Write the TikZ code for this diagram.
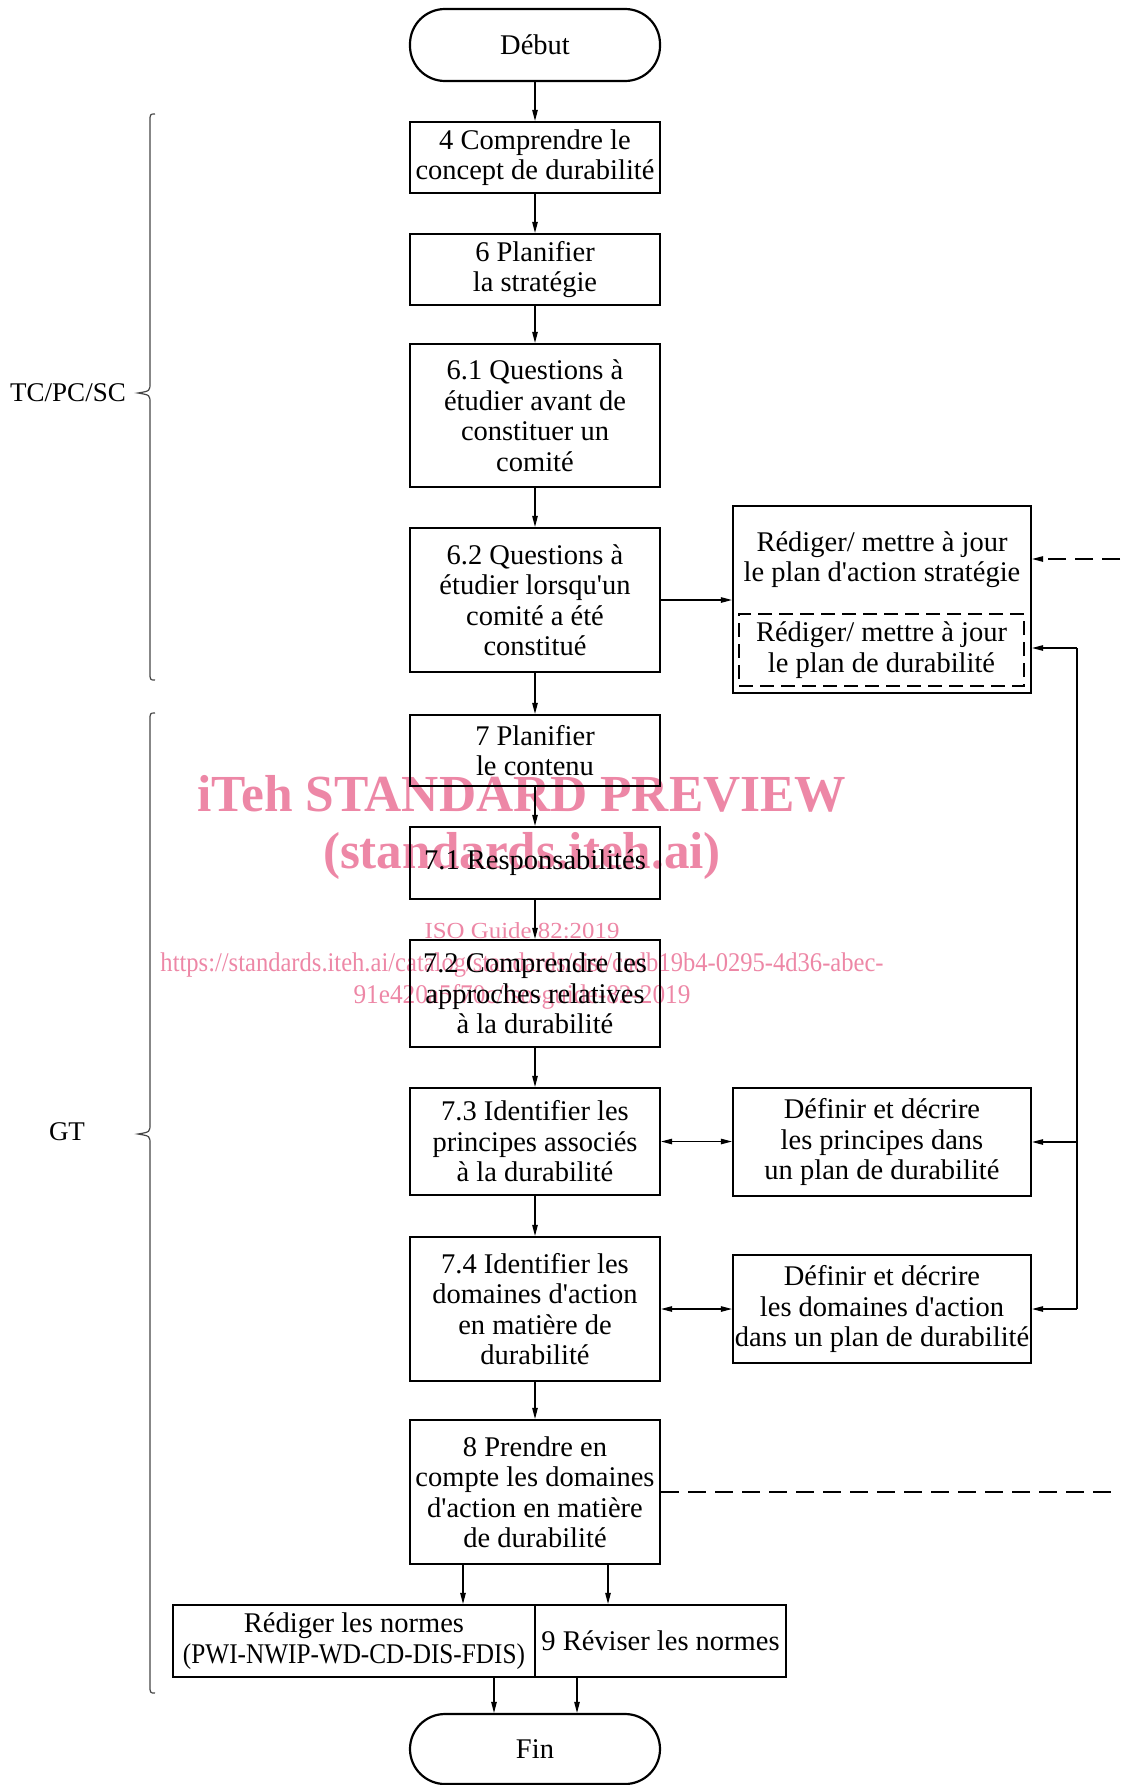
\documentclass[tikz,border=0pt]{standalone}
\usepackage{fontspec}
\setmainfont{Liberation Serif}[Ligatures=TeXOff]
\usepackage{graphicx}
\usetikzlibrary{arrows.meta}
\definecolor{wmpink}{RGB}{237,135,166}
\definecolor{bracegray}{RGB}{70,70,70}
\newcommand{\drawbrace}[3]{% top, tip, bottom
  \draw[bracegray, line width=1.2pt] (155,#1) .. controls (150,#1) .. (150,#1+8) -- (150,#2-10) .. controls (150,#2-2) .. (138,#2) .. controls (150,#2+2) .. (150,#2+10) -- (150,#3-8) .. controls (150,#3) .. (155,#3);}
\begin{document}
\begin{tikzpicture}[x=1pt,y=-1pt,
  box/.style={draw, line width=2.2pt, minimum width=250pt, align=center, inner sep=0pt, font=\fontsize{28.5}{30.5}\selectfont},
  stadium/.style={box, rounded corners=35pt},
  plain/.style={align=center, inner sep=0pt, font=\fontsize{28.5}{30.5}\selectfont},
  arr/.style={-{Triangle[length=11pt,width=5.5pt]}, line width=1.1pt},
  darr/.style={{Triangle[length=11pt,width=5.5pt]}-{Triangle[length=11pt,width=5.5pt]}, line width=1.1pt},
  dsh/.style={dash pattern=on 18pt off 9pt},
  wm/.style={text=wmpink, inner sep=0pt}]
\useasboundingbox (0,0) rectangle (1120,1785);

% watermark
\node[wm, font=\bfseries\fontsize{52}{52}\selectfont] (wm1) at (522,794) {\resizebox{649pt}{\height}{iTeh STANDARD PREVIEW}};
\node[wm, font=\bfseries\fontsize{52}{52}\selectfont] (wm2) at (522,856) {\resizebox{398pt}{\height}{(standards.iteh.ai)}};
\node[wm, font=\fontsize{23}{23}\selectfont] (wm3) at (522,932) {\resizebox{195pt}{\height}{\underline{ISO Guide 82:2019}}};
\node[wm, font=\fontsize{27}{27}\selectfont] (wm4) at (522,965) {\resizebox{723pt}{\height}{https://standards.iteh.ai/catalog/standards/sist/cadb19b4-0295-4d36-abec-}};
\node[wm, font=\fontsize{27}{27}\selectfont] (wm5) at (522,997) {\resizebox{337pt}{\height}{91e420a5f70c/iso-guide-82-2019}};

% main column
\node[stadium, minimum height=72pt] (debut) at (535,45) {Début};
\node[box, minimum height=71pt] (b4) at (535,157.5) {4 Comprendre le\\concept de durabilité};
\node[box, minimum height=71pt] (b6) at (535,269.5) {6 Planifier\\la stratégie};
\node[box, minimum height=143pt] (b61) at (535,415.5) {6.1 Questions à\\étudier avant de\\constituer un\\comité};
\node[box, minimum height=144pt] (b62) at (535,600) {6.2 Questions à\\étudier lorsqu'un\\comité a été\\constitué};
\node[box, minimum height=71pt] (b7) at (535,750.5) {7 Planifier\\le contenu};
\node[box, minimum height=72pt] (b71) at (535,863) {7.1 Responsabilités};
\node[box, minimum height=107pt] (b72) at (535,993.5) {7.2 Comprendre les\\approches relatives\\à la durabilité};
\node[box, minimum height=107pt] (b73) at (535,1141.5) {7.3 Identifier les\\principes associés\\à la durabilité};
\node[box, minimum height=144pt] (b74) at (535,1309) {7.4 Identifier les\\domaines d'action\\en matière de\\durabilité};
\node[box, minimum height=144pt] (b8) at (535,1492) {8 Prendre en\\compte les domaines\\d'action en matière\\de durabilité};
\node[box, minimum width=362pt, minimum height=72pt] (rl) at (354,1641) {Rédiger les normes\\\resizebox{342pt}{\height}{(PWI-NWIP-WD-CD-DIS-FDIS)}};
\node[box, minimum width=251pt, minimum height=72pt] (rr) at (660.5,1641) {9 Réviser les normes};
\node[stadium, minimum height=70pt] (fin) at (535,1749) {Fin};

% right column
\node[box, minimum width=298pt, minimum height=187pt] (r1) at (882,599.5) {};
\node[plain] (r1t) at (882,559.5) {Rédiger/ mettre à jour\\le plan d'action stratégie};
\node[box, line width=1.2pt, dash pattern=on 14pt off 7pt, minimum width=285pt, minimum height=72pt] (r1d) at (881.5,650) {Rédiger/ mettre à jour\\le plan de durabilité};
\node[box, minimum width=298pt, minimum height=108pt] (d1) at (882,1142) {Définir et décrire\\les principes dans\\un plan de durabilité};
\node[box, minimum width=298pt, minimum height=108pt] (d2) at (882,1309) {Définir et décrire\\les domaines d'action\\dans un plan de durabilité};

% braces
\drawbrace{114}{393}{680}
\drawbrace{713}{1134}{1693}
\node[plain, font=\fontsize{27}{30}\selectfont] (tc) at (68,393) {TC/PC/SC};
\node[plain, font=\fontsize{27}{30}\selectfont] (gt) at (67,1132) {GT};

% vertical flow
\draw[arr] (debut) -- (b4);
\draw[arr] (b4) -- (b6);
\draw[arr] (b6) -- (b61);
\draw[arr] (b61) -- (b62);
\draw[arr] (b62) -- (b7);
\draw[arr] (b7) -- (b71);
\draw[arr] (b71) -- (b72);
\draw[arr] (b72) -- (b73);
\draw[arr] (b73) -- (b74);
\draw[arr] (b74) -- (b8);
\draw[arr] ([xshift=-72pt]b8.south) -- ([xshift=-72pt]b8.south |- rl.north);
\draw[arr] ([xshift=73pt]b8.south) -- ([xshift=73pt]b8.south |- rr.north);
\draw[arr] ([xshift=-41pt]fin.north |- rl.south) -- ([xshift=-41pt]fin.north);
\draw[arr] ([xshift=42pt]fin.north |- rr.south) -- ([xshift=42pt]fin.north);

% horizontal links
\draw[arr] (b62.east) -- (b62.east -| r1.west);
\draw[darr] (b73.east) -- (b73.east -| d1.west);
\draw[darr] (b74.east) -- (b74.east -| d2.west);

% right bus
\coordinate (busTop) at (1077,648);
\coordinate (bus1) at (1077,1142);
\coordinate (bus2) at (1077,1309);
\draw[line width=1.1pt] (bus2) -- (busTop);
\draw[arr] (busTop) -- (busTop -| r1.east);
\draw[arr] (bus1) -- (bus1 -| d1.east);
\draw[arr] (bus2) -- (bus2 -| d2.east);

% dashed off-page links
\coordinate (dR) at (1120,559);
\coordinate (dB) at (1120,1492);
\draw[arr, dsh] (dR) -- (dR -| r1.east);
\draw[line width=1.1pt, dsh] (b8.east) -- (dB);
\end{tikzpicture}
\end{document}
